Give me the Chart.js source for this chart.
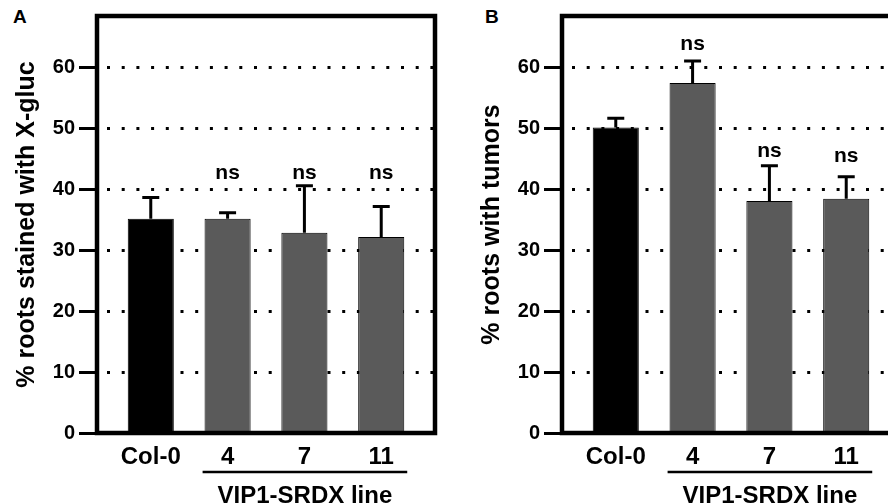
<!DOCTYPE html>
<html lang="en">
<head>
<meta charset="UTF-8">
<title>VIP1-SRDX lines</title>
<script src="https://cdn.jsdelivr.net/npm/chart.js"></script>
<style>
  body { margin: 0; width: 888px; height: 504px; overflow: hidden; background: #fff; position: relative; font-family: "Liberation Sans", Arial, sans-serif; }
  .panel { position: absolute; top: 0; width: 445px; height: 504px; }
  .tag { position: absolute; top: 6px; font-weight: bold; font-size: 19px; }
</style>
</head>
<body>
<div class="tag" style="left:13px">A</div>
<div class="tag" style="left:485px">B</div>
<div class="panel" style="left:0"><canvas id="chartA"></canvas></div>
<div class="panel" style="left:465px"><canvas id="chartB"></canvas></div>

<script>
  // data
  const lines = ['Col-0', '4', '7', '11'];
  const barColors = ['#000000', '#5a5a5a', '#5a5a5a', '#5a5a5a'];

  const xglucMean = [35.2, 35.2, 32.9, 32.2];
  const xglucErr = [3.5, 1.0, 7.7, 5.0];
  const xglucNs = [null, 41.7, 41.7, 41.7];   // baseline of the "ns" marks

  const tumorMean = [50.2, 57.5, 38.1, 38.5];
  const tumorErr = [1.5, 3.6, 5.8, 3.6];
  const tumorNs = [null, 62.9, 45.4, 44.5];

  const groupLabel = 'VIP1-SRDX line';

  Chart.defaults.font.family = '"Liberation Sans", Arial, sans-serif';
  Chart.defaults.color = '#000';

  // error bars, frame, ns marks and the group label under the x axis
  const extras = {
    id: 'extras',
    afterDraw(chart, args, opts) {
      const { ctx, chartArea: a, scales: { x, y } } = chart;
      ctx.save();
      ctx.strokeStyle = '#000';
      ctx.fillStyle = '#000';

      ctx.lineWidth = 3;
      opts.mean.forEach((m, i) => {
        const px = x.getPixelForValue(i);
        const top = y.getPixelForValue(m + opts.err[i]);
        ctx.beginPath();
        ctx.moveTo(px, y.getPixelForValue(m));
        ctx.lineTo(px, top);
        ctx.moveTo(px - 8.5, top);
        ctx.lineTo(px + 8.5, top);
        ctx.stroke();
      });

      ctx.lineWidth = 4.5;
      ctx.strokeRect(a.left, a.top, a.right - a.left, a.bottom - a.top);

      ctx.font = 'bold 21px "Liberation Sans", Arial, sans-serif';
      ctx.textAlign = 'center';
      ctx.textBaseline = 'alphabetic';
      opts.ns.forEach((v, i) => {
        if (v === null) return;
        ctx.fillText('ns', x.getPixelForValue(i), y.getPixelForValue(v));
      });

      const x1 = x.getPixelForValue(1) - 25;
      const x2 = x.getPixelForValue(3) + 26;
      ctx.lineWidth = 2.5;
      ctx.beginPath();
      ctx.moveTo(x1, 472);
      ctx.lineTo(x2, 472);
      ctx.stroke();
      ctx.font = 'bold 24px "Liberation Sans", Arial, sans-serif';
      ctx.fillText(groupLabel, (x1 + x2) / 2, 503);
      ctx.restore();
    }
  };

  function makeChart(id, mean, err, ns, title, titlePad) {
    return new Chart(document.getElementById(id), {
      type: 'bar',
      data: {
        datasets: [{
          data: mean.map((v, i) => ({ x: i, y: v })),
          backgroundColor: barColors,
          borderColor: '#000',
          borderWidth: 1,
          barPercentage: 0.6,
          categoryPercentage: 1
        }]
      },
      options: {
        responsive: true,
        maintainAspectRatio: false,
        animation: false,
        layout: { padding: { top: 13, right: 10 } },
        plugins: {
          legend: { display: false },
          tooltip: { enabled: false },
          extras: { mean: mean, err: err, ns: ns }
        },
        scales: {
          x: {
            type: 'linear',
            offset: false,
            min: -0.7,
            max: 3.7,
            grid: { display: false, drawTicks: false },
            border: { display: false },
            afterBuildTicks: s => { s.ticks = lines.map((c, i) => ({ value: i })); },
            afterFit: s => { s.height = 71; },
            ticks: {
              callback: v => lines[v],
              autoSkip: false,
              maxRotation: 0,
              padding: 10,
              font: { size: 24, weight: 'bold' }
            }
          },
          y: {
            min: 0,
            max: 68.5,
            afterFit: s => { s.width = 97; },
            ticks: {
              stepSize: 10,
              includeBounds: false,
              padding: 4,
              font: { size: 20, weight: 'bold' }
            },
            grid: { color: '#000', lineWidth: 3, tickWidth: 3, tickLength: 18 },
            border: { display: false, dash: [3, 11.7], dashOffset: 4.7 },
            title: {
              display: true,
              text: title,
              font: { size: 25, weight: 'bold', lineHeight: 1 },
              padding: { top: titlePad, bottom: 0 }
            }
          }
        }
      },
      plugins: [extras]
    });
  }

  makeChart('chartA', xglucMean, xglucErr, xglucNs, '% roots stained with X-gluc', 15);
  makeChart('chartB', tumorMean, tumorErr, tumorNs, '% roots with tumors', 15);
</script>
</body>
</html>
